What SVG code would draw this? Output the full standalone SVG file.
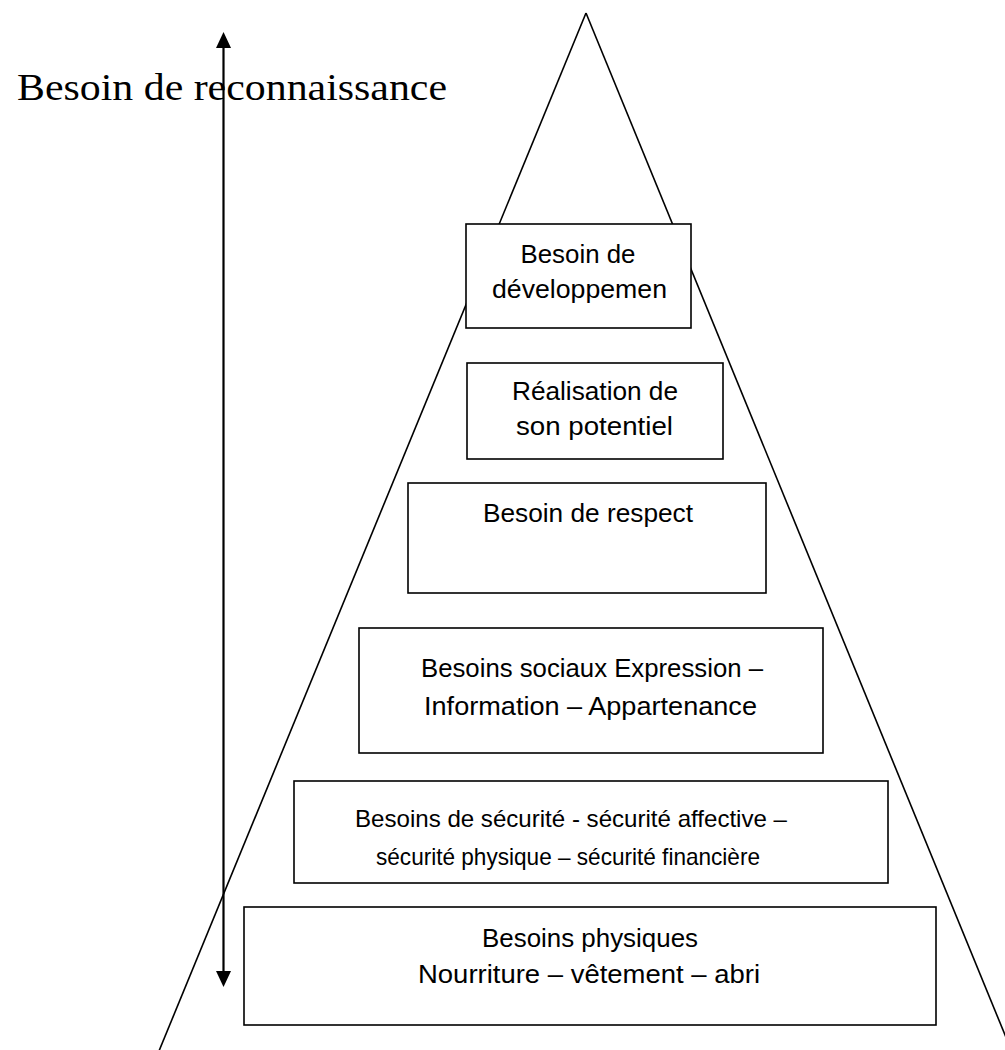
<svg xmlns="http://www.w3.org/2000/svg" width="1005" height="1050" viewBox="0 0 1005 1050">
<style>
.edge{stroke:#000;stroke-width:1.6;fill:none}
.box{fill:#fff;stroke:#000;stroke-width:1.6}
.lbl{font-family:"Liberation Sans",Arial,sans-serif;font-size:26px;fill:#000;text-anchor:middle}
.sm{font-size:24px}
.title{font-family:"Liberation Serif","Times New Roman",serif;font-size:38px;fill:#000}
.arrow{stroke:#000;stroke-width:2.2;fill:none}
</style>
<defs>
<marker id="ah" markerUnits="userSpaceOnUse" markerWidth="16" markerHeight="16" viewBox="0 0 16 16" refX="8" refY="7.5" orient="auto-start-reverse">
<path d="M0,0 L16,7.5 L0,15 z" fill="#000"/>
</marker>
</defs>
<rect width="1005" height="1050" fill="#fff"/>
<g id="pyramid">
<line class="edge" x1="586" y1="13" x2="159" y2="1051"/>
<line class="edge" x1="586" y1="13" x2="1012" y2="1052"/>
</g>
<g id="title">
<text class="title" x="17" y="100" textLength="430" lengthAdjust="spacingAndGlyphs">Besoin de reconnaissance</text>
</g>
<g id="node-developpement">
<rect class="box" x="466" y="224" width="225" height="104"/>
<text class="lbl" x="578" y="263" textLength="115" lengthAdjust="spacingAndGlyphs">Besoin de</text>
<text class="lbl" x="579.5" y="298" textLength="175" lengthAdjust="spacingAndGlyphs">développemen</text>
</g>
<g id="node-realisation">
<rect class="box" x="467" y="363" width="256" height="96"/>
<text class="lbl" x="595" y="400" textLength="166" lengthAdjust="spacingAndGlyphs">Réalisation de</text>
<text class="lbl" x="594.5" y="435" textLength="157" lengthAdjust="spacingAndGlyphs">son potentiel</text>
</g>
<g id="node-respect">
<rect class="box" x="408" y="483" width="358" height="110"/>
<text class="lbl" x="588" y="522" textLength="210" lengthAdjust="spacingAndGlyphs">Besoin de respect</text>
</g>
<g id="node-sociaux">
<rect class="box" x="359" y="628" width="464" height="125"/>
<text class="lbl" x="592" y="677" textLength="342" lengthAdjust="spacingAndGlyphs">Besoins sociaux Expression –</text>
<text class="lbl" x="590.5" y="715" textLength="333" lengthAdjust="spacingAndGlyphs">Information – Appartenance</text>
</g>
<g id="node-securite">
<rect class="box" x="294" y="781" width="594" height="102"/>
<text class="lbl sm" x="571" y="827" textLength="432" lengthAdjust="spacingAndGlyphs">Besoins de sécurité - sécurité affective –</text>
<text class="lbl sm" x="568" y="865" textLength="384" lengthAdjust="spacingAndGlyphs">sécurité physique – sécurité financière</text>
</g>
<g id="node-physiques">
<rect class="box" x="244" y="907" width="692" height="118"/>
<text class="lbl" x="590" y="947" textLength="216" lengthAdjust="spacingAndGlyphs">Besoins physiques</text>
<text class="lbl" x="589" y="983" textLength="342" lengthAdjust="spacingAndGlyphs">Nourriture – vêtement – abri</text>
</g>
<g id="connectors">
<line class="arrow" x1="223.5" y1="40" x2="223.5" y2="979" marker-start="url(#ah)" marker-end="url(#ah)"/>
</g>
</svg>
